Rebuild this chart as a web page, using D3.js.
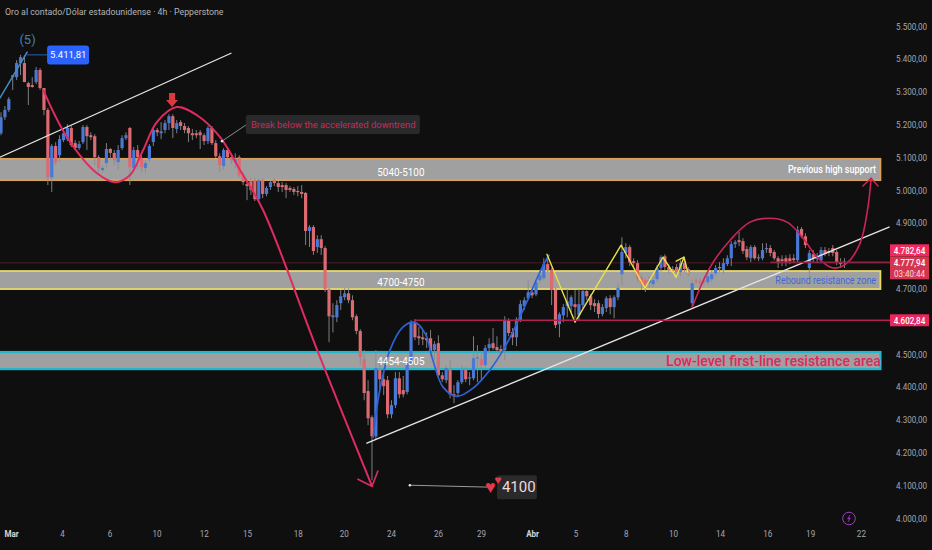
<!DOCTYPE html>
<html>
<head>
<meta charset="utf-8">
<script src="https://d3js.org/d3.v7.min.js"></script>
<style>
html, body { margin: 0; padding: 0; background: #0f0f0f; overflow: hidden; }
text { font-family: Roboto, "Noto Sans", sans-serif; }
</style>
</head>
<body>
<div id="chart"></div>
<script>
const opens = [5173,5222,5244,5344,5344,5387,5387,5326,5320,5329,
5366,5311,5244,5039,5134,5106,5152,5155,5189,5143,
5128,5146,5192,5167,5164,5100,5061,5082,5125,5113,
5085,5128,5158,5189,5067,5122,5097,5067,5094,5146,
5183,5173,5183,5204,5225,5186,5207,5195,5189,5173,
5173,5176,5167,5149,5189,5143,5103,5073,5122,5100,
5085,5100,5045,5018,5027,5030,4972,5030,4988,5009,
5030,5021,5015,5015,5006,5003,4997,4994,4991,4875,
4887,4826,4850,4823,4698,4612,4612,4655,4673,4685,
4664,4615,4570,4484,4387,4307,4249,4451,4423,4420,
4316,4344,4426,4390,4384,4472,4594,4554,4551,4548,
4548,4512,4533,4435,4420,4451,4377,4381,4414,4451,
4426,4426,4487,4484,4466,4518,4533,4521,4515,4512,
4603,4567,4551,4603,4646,4670,4688,4682,4725,4731,
4774,4756,4695,4591,4618,4646,4646,4652,4618,4649,
4692,4676,4655,4655,4622,4640,4670,4643,4673,4743,
4808,4826,4783,4777,4734,4725,4716,4713,4728,4762,
4798,4765,4759,4765,4750,4777,4759,4655,4725,4722,
4725,4719,4728,4746,4765,4756,4774,4792,4835,4847,
4844,4820,4792,4826,4792,4792,4820,4823,4811,4792,
4789,4792,4792,4792,4786,4881,4859,4762,4804,4789,
4786,4817,4814,4823,4811,4780,4782]

const closes = [5222,5244,5277,5350,5387,5405,5329,5314,5314,5366,
5311,5244,5039,5134,5085,5155,5173,5189,5137,5128,
5140,5192,5164,5161,5100,5067,5067,5125,5113,5091,
5122,5158,5167,5070,5122,5100,5070,5082,5134,5183,
5176,5179,5204,5225,5189,5204,5195,5183,5173,5167,
5167,5167,5149,5189,5143,5103,5076,5122,5100,5091,
5094,5045,5024,5012,5000,4972,5030,4988,5006,5024,
5021,5009,5009,5000,5000,4994,4994,4988,4875,4887,
4814,4850,4823,4698,4615,4618,4649,4676,4685,4664,
4612,4570,4490,4381,4304,4249,4457,4423,4402,4316,
4344,4426,4377,4377,4472,4594,4551,4548,4545,4542,
4506,4530,4435,4423,4457,4377,4371,4414,4451,4423,
4429,4487,4490,4466,4518,4530,4518,4512,4509,4603,
4564,4551,4606,4652,4664,4688,4679,4719,4740,4774,
4756,4695,4588,4621,4643,4661,4673,4643,4652,4692,
4676,4649,4646,4622,4643,4670,4643,4673,4701,4811,
4826,4780,4777,4731,4716,4710,4725,4725,4762,4795,
4765,4756,4753,4750,4777,4759,4746,4716,4722,4716,
4719,4737,4743,4762,4762,4777,4792,4835,4841,4841,
4814,4795,4826,4792,4795,4817,4823,4808,4792,4777,
4783,4780,4783,4786,4878,4859,4832,4808,4792,4795,
4817,4805,4808,4808,4780,4774,4778]

const highs = [5237,5256,5283,5350,5396,5412,5410,5330,5344,5375,
5372,5311,5250,5140,5146,5167,5189,5201,5195,5152,
5149,5198,5198,5176,5170,5106,5076,5143,5128,5122,
5137,5167,5176,5192,5131,5137,5106,5091,5140,5192,
5189,5207,5213,5231,5231,5213,5213,5204,5195,5186,
5183,5183,5173,5195,5195,5152,5112,5128,5128,5106,
5112,5106,5054,5030,5036,5036,5036,5036,5012,5030,
5036,5027,5024,5021,5012,5009,5012,5015,4994,4893,
4893,4862,4862,4829,4701,4655,4664,4695,4701,4701,
4679,4621,4576,4512,4420,4313,4512,4481,4451,4433,
4359,4445,4445,4433,4481,4603,4606,4582,4573,4566,
4573,4539,4557,4445,4466,4481,4405,4420,4466,4460,
4445,4554,4527,4506,4527,4548,4579,4554,4527,4615,
4609,4579,4612,4664,4673,4725,4701,4725,4750,4792,
4801,4762,4701,4627,4652,4698,4679,4695,4698,4698,
4698,4682,4667,4664,4652,4676,4679,4679,4713,4856,
4838,4832,4792,4786,4743,4731,4737,4737,4771,4801,
4804,4774,4768,4774,4786,4786,4765,4725,4731,4731,
4734,4750,4756,4771,4780,4792,4801,4844,4847,4872,
4853,4829,4832,4832,4804,4838,4838,4832,4817,4798,
4801,4801,4804,4804,4890,4887,4868,4817,4817,4808,
4826,4826,4823,4832,4817,4792,4792]

const lows = [5167,5213,5238,5305,5335,5350,5329,5259,5312,5323,
5305,5228,5015,4994,5076,5085,5146,5149,5131,5122,
5122,5140,5122,5152,5076,5054,5054,5070,5091,5076,
5061,5122,5152,5015,5054,5061,5054,5054,5085,5134,
5164,5155,5173,5183,5158,5173,5183,5173,5146,5152,
5158,5125,5137,5140,5137,5097,5054,5061,5091,5079,
5067,5039,5015,4969,4985,4966,4966,4975,4981,5000,
5012,4994,4994,4975,4994,4985,4981,4975,4832,4826,
4802,4808,4802,4689,4536,4566,4597,4634,4664,4655,
4603,4560,4466,4359,4283,4115,4240,4390,4375,4304,
4304,4335,4365,4368,4377,4469,4542,4527,4527,4518,
4493,4481,4426,4414,4411,4365,4350,4371,4408,4414,
4405,4420,4414,4420,4457,4506,4512,4506,4500,4481,
4554,4527,4524,4597,4634,4664,4670,4676,4716,4725,
4750,4649,4579,4551,4597,4612,4628,4609,4603,4640,
4664,4634,4628,4609,4615,4628,4621,4609,4664,4710,
4792,4768,4762,4719,4695,4689,4701,4704,4719,4750,
4756,4746,4743,4741,4737,4750,4737,4643,4713,4707,
4710,4710,4719,4737,4750,4743,4768,4768,4823,4829,
4805,4786,4780,4786,4783,4786,4808,4798,4786,4762,
4768,4768,4774,4777,4780,4853,4823,4741,4780,4777,
4777,4798,4798,4798,4771,4762,4762]

// axis labels
const dateTicks = [2.6,15.6,27.8,39.8,51.9,63,76,87.8,99.9,111.9,122.9,136,147.1,160,172.1,184.1,196.2,207.2,220.2]
const dateLabels = ["Mar","4","6","10","12","15","18","20","24","26","29","Abr","5","8","10","14","16","19","22"]
const priceTicks = [5500,5400,5300,5200,5100,5000,4900,4700,4500,4400,4300,4200,4100,4000]

// drawn zones [top, bottom] in price
const zoneHigh = [5095,5030]
const zoneMid = [4753,4698]
const zoneLow = [4506,4454]

// drawings as [candle index, price]
const waveFive = [[-0.3,5280],[6.7,5420]]
const waveLeader = [[6.7,5412],[11.8,5412]]
const upperTrend = [[-0.3,5100],[58.9,5417]]
const lowerTrend = [[93.7,4228],[227.4,4887]]
const downCurve = [[10.8,5305],[16.9,5161],[24.6,5051],[29.2,5024],[33,5045],[36.4,5122],[39.9,5207],[45,5253],[50.2,5228],[56.1,5161],[61.2,5061],[67.1,4939],[81.2,4505],[95,4097]]
const downHead = [[91.4,4118],[95,4097],[96.5,4143]]
const blueCurve = [[95.3,4246],[97,4390],[99.6,4512],[102.9,4582],[105.8,4597],[108.6,4563],[110.6,4481],[113.2,4399],[116.8,4371],[120.9,4396],[125.2,4451],[129.6,4533],[133.7,4634],[138,4750],[140.3,4801]]
const zigzag = [[139.8,4804],[147,4597],[158.8,4832],[164.9,4701],[169.5,4795],[172.9,4734],[174.9,4795],[175.9,4749]]
const zigzagHead = [[172.9,4783],[174.9,4795]]
const riseCurve = [[177,4643],[181.6,4765],[186.7,4847],[191.8,4902],[196.9,4914],[201.3,4902],[205.4,4853],[209,4795],[213.1,4762],[216.6,4777],[220,4838],[222,4948],[222.8,5036]]
const riseHead = [[220.7,5012],[222.8,5036],[224.6,5012]]
const calloutLink = [[56.6,5149],[62.7,5198]]
const targetLink = [[104.7,4100],[125.2,4094]]

const lastPrice = 4777.94
const prevPrice = 4782.64
const levelPrice = 4602.84
const highPrice = 5411.81

const WIDTH = 932, HEIGHT = 550
const X_RIGHT = 228.2
const ZONE_END = 225.2

const x = d3.scaleLinear().domain([0, 216]).range([1, 844.5])
const y = d3.scaleLinear().domain([5500, 4000]).range([26, 518])
const fmt = d3.formatLocale({ decimal: ",", thousands: ".", grouping: [3], currency: ["", ""] }).format(",.2f")

const svg = d3.select("#chart").append("svg")
    .attr("width", WIDTH)
    .attr("height", HEIGHT)
    .style("display", "block")

// the source font is narrower than anything installed
function squeeze(sel, ratio) {
    sel.each(function () {
        d3.select(this)
            .attr("textLength", this.getComputedTextLength() * ratio)
            .attr("lengthAdjust", "spacingAndGlyphs")
    })
    return sel
}

svg.append("rect").attr("width", WIDTH).attr("height", HEIGHT).attr("fill", "#0f0f0f")

squeeze(svg.append("text").attr("x", 5).attr("y", 15)
    .attr("font-size", 9.6).attr("fill", "#b4b4b4")
    .text("Oro al contado/Dólar estadounidense · 4h · Pepperstone"), 0.915)

// thin price lines behind everything
svg.append("line").attr("x1", 0).attr("x2", x(X_RIGHT))
    .attr("y1", y(lastPrice)).attr("y2", y(lastPrice))
    .attr("stroke", "#4f1a26").attr("stroke-width", 1)

// zones
const zones = [
    { v: zoneHigh, c: "#d9a25c", w: 1.8 },
    { v: zoneMid, c: "#e6d96a", w: 1.8 },
    { v: zoneLow, c: "#22b7cc", w: 2.2 }
]
svg.selectAll(".zone").data(zones).enter().append("rect")
    .attr("class", "zone")
    .attr("x", -2)
    .attr("y", d => y(d.v[0]))
    .attr("width", x(ZONE_END) + 2)
    .attr("height", d => y(d.v[1]) - y(d.v[0]))
    .attr("fill", "#a0a0a0")
    .attr("stroke", d => d.c)
    .attr("stroke-width", d => d.w)

// candles
const candles = d3.range(opens.length)
svg.append("g").selectAll("line").data(candles).enter().append("line")
    .attr("x1", i => x(i)).attr("x2", i => x(i))
    .attr("y1", i => y(highs[i])).attr("y2", i => y(lows[i]))
    .attr("stroke", "#8b8b8b").attr("stroke-width", 0.9)

svg.append("g").selectAll("rect").data(candles).enter().append("rect")
    .attr("x", i => x(i) - 1.6)
    .attr("width", 3.2)
    .attr("y", i => y(Math.max(opens[i], closes[i])))
    .attr("height", i => Math.max(1.2, Math.abs(y(opens[i]) - y(closes[i]))))
    .attr("fill", i => closes[i] >= opens[i] ? "#4a78d6" : "#dd6a70")

// drawings
const straight = d3.line().x(d => x(d[0])).y(d => y(d[1]))
const smooth = d3.line().x(d => x(d[0])).y(d => y(d[1])).curve(d3.curveCatmullRom.alpha(0.5))

function draw(points, color, w, gen) {
    return svg.append("path")
        .attr("d", (gen || straight)(points))
        .attr("fill", "none")
        .attr("stroke", color)
        .attr("stroke-width", w)
        .attr("stroke-linecap", "round")
        .attr("stroke-linejoin", "round")
}

draw(upperTrend, "#e4e4e4", 1.3)
draw(lowerTrend, "#e4e4e4", 1.4)
draw(waveFive, "#3f8fc9", 1.5)
draw(waveLeader, "#2a5fb8", 1)
draw(downCurve, "#e02a60", 2, smooth)
draw(downHead, "#e02a60", 1.6)
draw(blueCurve, "#2e62d4", 1.7, smooth)
draw(zigzag, "#eae24a", 1.4)
draw(zigzagHead, "#eae24a", 1.4)
draw(riseCurve, "#cc2458", 1.6, smooth)
draw(riseHead, "#cc2458", 1.5)
draw(calloutLink, "#8c8c8c", 1)
draw(targetLink, "#9a9a9a", 1)

svg.append("circle").attr("cx", x(calloutLink[0][0])).attr("cy", y(calloutLink[0][1])).attr("r", 1.2).attr("fill", "#eee")
svg.append("circle").attr("cx", x(targetLink[0][0])).attr("cy", y(targetLink[0][1])).attr("r", 1.2).attr("fill", "#eee")

// horizontal price levels
svg.append("line").attr("x1", x(105.8)).attr("x2", x(X_RIGHT))
    .attr("y1", y(levelPrice)).attr("y2", y(levelPrice))
    .attr("stroke", "#b0234f").attr("stroke-width", 1.6)
svg.append("line").attr("x1", x(197)).attr("x2", x(X_RIGHT))
    .attr("y1", y(lastPrice) - 0.5).attr("y2", y(lastPrice) - 0.5)
    .attr("stroke", "#8c2340").attr("stroke-width", 1.6)

// red arrow above the top
svg.append("path")
    .attr("transform", `translate(${x(43.8)},${y(5253)})`)
    .attr("d", "M0,0L-6,-7L-3,-7L-3,-14L3,-14L3,-7L6,-7Z")
    .attr("fill", "#d93a40")

// labels on the chart
function label(i, p, txt, size, color, anchor, weight) {
    return svg.append("text")
        .attr("x", x(i)).attr("y", y(p))
        .attr("dy", "0.35em")
        .attr("text-anchor", anchor || "middle")
        .attr("font-size", size)
        .attr("font-weight", weight || 400)
        .attr("fill", color)
        .text(txt)
}

squeeze(label(102.4, 5055, "5040-5100", 11, "#ffffff"), 0.9)
squeeze(label(102.4, 4719, "4700-4750", 11, "#ffffff"), 0.9)
squeeze(label(102.4, 4478, "4454-4505", 11, "#ffffff"), 0.9)
squeeze(label(224.1, 5061, "Previous high support", 10, "#ffffff", "end", 500), 0.9)
squeeze(label(224.1, 4725, "Rebound resistance zone", 10, "#3e68da", "end"), 0.9)
label(225.3, 4478, "Low-level first-line resistance area", 14, "#e0275f", "end", 500)
label(6.8, 5460, "(5)", 13, "#3f7fb4")

// blue high tag
svg.append("rect").attr("x", x(11.8)).attr("y", y(highPrice) - 9.5)
    .attr("width", 42).attr("height", 19).attr("rx", 3).attr("fill", "#2962ff")
label(17.2, highPrice, fmt(highPrice), 9.5, "#ffffff")

// callout
svg.append("rect").attr("x", x(62.7)).attr("y", y(5200) - 9.5)
    .attr("width", 174).attr("height", 19).attr("rx", 2).attr("fill", "#2a2a2c")
squeeze(label(64, 5200, "Break below the accelerated downtrend", 9.6, "#c92a58", "start"), 0.98)

// 4100 tag
svg.append("rect").attr("x", x(127)).attr("y", y(4094) - 12)
    .attr("width", 40).attr("height", 24).attr("rx", 2).attr("fill", "#2a2a2c")
label(132.6, 4094, "4100", 15, "#f3d7da")
label(125.3, 4094, "♥", 18, "#e23a4e")
label(127.2, 4116, "♥", 12, "#e23a4e")

// axes
const yAxis = svg.append("g")
    .attr("transform", "translate(927,0)")
    .call(d3.axisLeft(y).tickValues(priceTicks).tickSize(0).tickPadding(0).tickFormat(fmt))
yAxis.select(".domain").remove()
yAxis.selectAll("text").attr("font-size", 9.6).attr("fill", "#a6a8ad").style("font-family", "Roboto")
squeeze(yAxis.selectAll("text"), 0.84)

const xAxis = svg.append("g")
    .attr("transform", "translate(0,527)")
    .call(d3.axisBottom(x).tickValues(dateTicks).tickSize(0).tickPadding(3)
        .tickFormat((d, i) => dateLabels[i]))
xAxis.select(".domain").remove()
xAxis.selectAll("text")
    .attr("font-size", 9.6)
    .attr("fill", (d, i) => isNaN(dateLabels[i]) ? "#d6d6d6" : "#a6a8ad")
    .attr("font-weight", (d, i) => isNaN(dateLabels[i]) ? 700 : 400)
    .style("font-family", "Roboto")
squeeze(xAxis.selectAll("text"), 0.84)

// price badges
const badges = [
    { p: prevPrice, txt: fmt(prevPrice), h: 12, c: "#ee2a5e", shift: -11 },
    { p: levelPrice, txt: fmt(levelPrice), h: 12, c: "#e9275f", shift: 0 }
]
badges.forEach(b => {
    svg.append("rect").attr("x", 890).attr("y", y(b.p) - b.h / 2 + b.shift)
        .attr("width", 39).attr("height", b.h).attr("fill", b.c)
    squeeze(svg.append("text").attr("x", 909.5).attr("y", y(b.p) + b.shift)
        .attr("dy", "0.35em").attr("text-anchor", "middle")
        .attr("font-size", 9.6).attr("font-weight", 500).attr("fill", "#fff").text(b.txt), 0.84)
})
svg.append("rect").attr("x", 890).attr("y", y(lastPrice) - 6.5)
    .attr("width", 39).attr("height", 23).attr("fill", "#d4354f")
squeeze(svg.append("text").attr("x", 909.5).attr("y", y(lastPrice))
    .attr("dy", "0.35em").attr("text-anchor", "middle")
    .attr("font-size", 9.6).attr("font-weight", 500).attr("fill", "#fff").text(fmt(lastPrice)), 0.84)
squeeze(svg.append("text").attr("x", 909.5).attr("y", y(lastPrice) + 10.5)
    .attr("dy", "0.35em").attr("text-anchor", "middle")
    .attr("font-size", 9.6).attr("fill", "#f6dfe3").text("03:40:44"), 0.84)

// lightning mark
const bolt = svg.append("g").attr("transform", "translate(849,518.5)")
bolt.append("circle").attr("r", 6.3).attr("fill", "none").attr("stroke", "#9c3fc0").attr("stroke-width", 1)
bolt.append("path").attr("d", "M1,-3.5L-1.5,0.5L0.5,0.5L-1,3.5L1.5,-0.5L-0.5,-0.5Z")
    .attr("fill", "#9c3fc0").attr("stroke", "#9c3fc0").attr("stroke-width", 0.4)
</script>
</body>
</html>
